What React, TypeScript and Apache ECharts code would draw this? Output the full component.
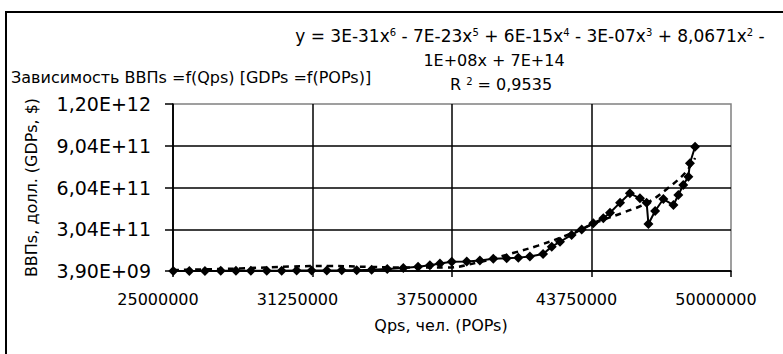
import React, { useEffect, useRef } from "react";
import * as echarts from "echarts";

const populationX = [
  25010000, 25730000, 26430000, 27140000, 27820000, 28490000, 29200000, 29870000, 30540000, 31210000,
  31890000, 32560000, 33230000, 33900000, 34600000, 35320000, 35980000, 36510000, 36960000, 37490000,
  38160000, 38750000, 39350000, 39950000, 40470000, 40990000, 41580000, 41970000, 42340000, 42860000,
  43310000, 43830000, 44280000, 44580000, 45030000, 45470000, 45920000, 46220000, 46300000, 46600000,
  46970000, 47420000, 47640000, 47860000, 48090000, 48160000, 48390000,
];
const gdpY = [
  4.0e9, 4.2e9, 4.5e9, 4.8e9, 5.2e9, 5.6e9, 6.0e9, 6.5e9, 7.0e9, 7.6e9,
  8.2e9, 9.0e9, 1.0e10, 1.3e10, 1.8e10, 2.5e10, 3.4e10, 4.5e10, 5.8e10, 7.0e10,
  7.3e10, 8.0e10, 9.2e10, 9.5e10, 1.0e11, 1.08e11, 1.26e11, 1.79e11, 2.14e11, 2.63e11,
  3.03e11, 3.47e11, 3.83e11, 4.23e11, 4.95e11, 5.62e11, 5.26e11, 4.95e11, 3.42e11, 4.35e11,
  5.21e11, 4.78e11, 5.5e11, 6.22e11, 6.82e11, 7.78e11, 8.97e11,
];
const trendX = [
  25000000, 26210000, 28000000, 30240000, 32030000, 33830000, 35620000, 37280000, 38750000,
  40230000, 41350000, 42790000, 44130000, 45250000, 46240000, 47180000, 47980000, 48390000,
];
const trendY = [
  1.1e10, 1.47e10, 2.2e10, 3.6e10, 4.0e10, 3.3e10, 2.9e10, 2.9e10, 6.9e10,
  1.33e11, 1.86e11, 2.7e11, 3.63e11, 4.28e11, 4.93e11, 6.0e11, 7.15e11, 8.16e11,
];
const titleText = "Зависимость ВВПs =f(Qps) [GDPs =f(POPs)]";
const equationLines = [
  "y = 3E-31x{s|6} - 7E-23x{s|5} + 6E-15x{s|4} - 3E-07x{s|3} + 8,0671x{s|2} -",
  "1E+08x + 7E+14",
  "R {s|2} = 0,9535",
];
const xAxisName = "Qps, чел. (POPs)";
const yAxisName = "ВВПs, долл. (GDPs, $)";

const FONT = "DejaVu Sans";

function fmtY(v: number): string {
  const s = v.toExponential(2);
  const [m, e] = s.split("e");
  const sign = e[0] === "-" ? "-" : "+";
  const digits = e.replace(/[+-]/, "").padStart(2, "0");
  return m.replace(".", ",") + "E" + sign + digits;
}

const supRich = {
  s: { fontFamily: FONT, fontSize: 10, verticalAlign: "top", fill: "#000", padding: [0, 0, 6, 0] },
};

function eqText(text: string, x: number, y: number, size: number) {
  return {
    type: "text",
    x,
    y,
    style: {
      text,
      fontFamily: FONT,
      fontSize: size,
      fill: "#000",
      textAlign: "center",
      textVerticalAlign: "middle",
      rich: supRich,
    },
  };
}

export default function App() {
  const ref = useRef<HTMLDivElement>(null);
  useEffect(() => {
    if (!ref.current) return;
    const chart = echarts.init(ref.current, null, { renderer: "svg" });
    const data = populationX.map((x, i) => [x, gdpY[i]]);
    const trend = trendX.map((x, i) => [x, trendY[i]]);
    chart.setOption({
      animation: false,
      backgroundColor: "#ffffff",
      title: {
        text: titleText,
        left: 6,
        top: 64,
        textStyle: { fontFamily: FONT, fontSize: 16, fontWeight: "normal", color: "#000" },
      },
      grid: {
        left: 173,
        top: 104,
        right: 52,
        bottom: 83,
        show: true,
        borderColor: "#808080",
        borderWidth: 1.5,
        backgroundColor: "#ffffff",
      },
      xAxis: {
        type: "value",
        min: 25000000,
        max: 50000000,
        interval: 6250000,
        name: xAxisName,
        nameLocation: "middle",
        nameGap: 46,
        nameTextStyle: { fontFamily: FONT, fontSize: 16, color: "#000", padding: [0, 22, 0, 0] },
        axisLine: { show: true, lineStyle: { color: "#000", width: 1.5 } },
        axisTick: { show: true, length: 6, lineStyle: { color: "#000", width: 1.5 } },
        axisLabel: {
          fontFamily: FONT,
          fontSize: 16,
          color: "#000",
          margin: 20,
          padding: [0, 30, 0, 0],
          formatter: (v: number) => String(Math.round(v)),
        },
        splitLine: { show: true, showMaxLine: false, lineStyle: { color: "#000", width: 1.5 } },
      },
      yAxis: {
        type: "value",
        min: 3.9e9,
        max: 1.2039e12,
        interval: 3e11,
        name: yAxisName,
        nameLocation: "middle",
        nameGap: 134,
        nameTextStyle: { fontFamily: FONT, fontSize: 16, color: "#000" },
        axisLine: { show: true, lineStyle: { color: "#000", width: 1.5 } },
        axisTick: { show: true, length: 8, lineStyle: { color: "#000", width: 1.5 } },
        axisLabel: {
          fontFamily: FONT,
          fontSize: 19,
          color: "#000",
          margin: 22,
          formatter: (v: number) => fmtY(v),
        },
        splitLine: { show: true, showMaxLine: false, lineStyle: { color: "#000", width: 1.5 } },
      },
      graphic: [
        {
          type: "rect",
          shape: { x: 6, y: 12, width: 800, height: 400 },
          style: { fill: "none", stroke: "#000", lineWidth: 2 },
          silent: true,
          z: 100,
        },
        eqText(equationLines[0], 530, 36, 17),
        eqText(equationLines[1], 494, 60, 16),
        eqText(equationLines[2], 501, 84, 16),
      ],
      series: [
        {
          type: "line",
          data,
          symbol: "diamond",
          symbolSize: 10,
          showSymbol: true,
          itemStyle: { color: "#000" },
          lineStyle: { color: "#000", width: 2 },
          z: 3,
        },
        {
          type: "line",
          data: trend,
          symbol: "none",
          smooth: 0.4,
          lineStyle: { color: "#000", width: 2.5, type: [6, 5] },
          z: 4,
        },
      ],
    });
    return () => chart.dispose();
  }, []);
  return (
    <div
      ref={ref}
      style={{ position: "absolute", left: 0, top: 0, width: 783, height: 354 }}
    />
  );
}
